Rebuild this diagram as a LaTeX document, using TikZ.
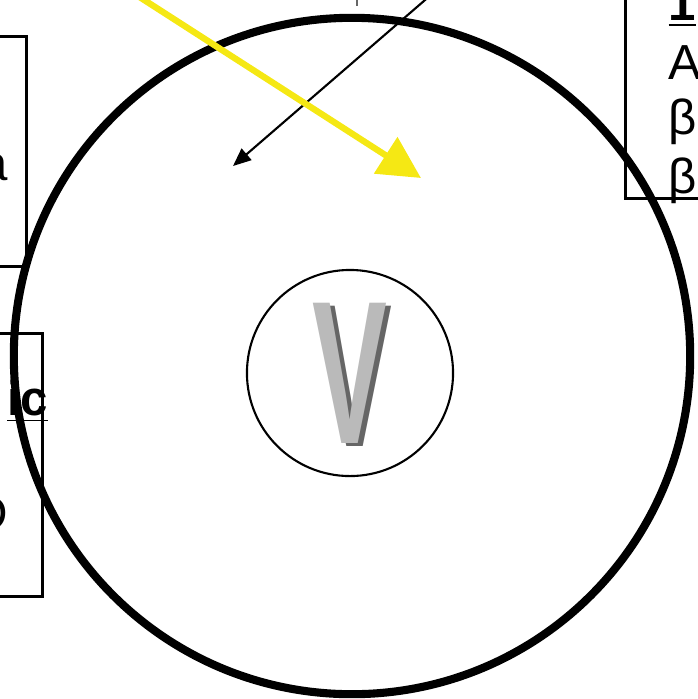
\documentclass[tikz,border=0pt]{standalone}
\usepackage{fontspec}
\setmainfont{Liberation Sans}
\usetikzlibrary{arrows.meta,positioning}
\definecolor{rayyellow}{rgb}{0.96,0.91,0.08}
\tikzset{panel/.style={draw,line width=0.8pt,minimum width=3cm},
  lbl/.style={inner sep=0pt,font=\fontsize{14}{17}\selectfont},
  arr/.style={-{Triangle[length=1.8mm,width=1.5mm]},line width=0.6pt},
  ray/.style={-{Triangle[length=4.2mm,width=4.2mm]},line width=1.8pt,rayyellow},
  vlet/.style={inner sep=0pt,font=\fontsize{58}{58}\selectfont\bfseries}}

\begin{document}
\begin{tikzpicture}[x=0.01cm,y=-0.01cm]
\useasboundingbox (0,0) rectangle (698,699);
\clip (0,0) rectangle (698,699);
% side panels, cut by the frame
\node[panel,minimum height=2.3cm,anchor=north east] (keyA) at (28,35) {};
\node[panel,minimum height=2.63cm,anchor=north east] (keyB) at (44,332) {};
\node[panel,minimum height=3.5cm,anchor=south west] (keyC) at (624,200) {};
\node[lbl,anchor=base east] (keyAtxt) at (9,180) {a};
\node[lbl,anchor=base east] (keyBhead) at (49,415) {\underline{\textbf{ic}}};
\node[lbl,anchor=base east] (keyBtxt) at (9,530) {D};
\node[lbl,anchor=base west] (keyChead) at (668,20) {\underline{\textbf{1}}};
\node[lbl,anchor=base west] (keyC1) at (668,79) {A};
\node[lbl,anchor=base west] (keyC2) at (668,134) {βe};
\node[lbl,anchor=base west] (keyC3) at (668,193) {βa};
% cell and nucleus
\node[draw,circle,line width=2.3pt,minimum size=6.76cm] (cell) at (352,356) {};
\node[draw,circle,line width=0.6pt,minimum size=2.06cm] (nucleus) at (350,373) {};
\node[vlet,text=black!60] (vshadow) at ([xshift=0.05cm,yshift=-0.035cm]nucleus.center) {\scalebox{0.55}[1]{V}};
\node[vlet,text=black!27] (vmark) at (nucleus.center) {\scalebox{0.55}[1]{V}};
% incoming arrows
\draw[black!60,line width=0.5pt] (357,-10) -- (357,6);
\coordinate (sigin) at (432,-6);
\coordinate (sigend) at (233,166);
\draw[arr] (sigin) -- (sigend);
\coordinate (rayin) at (138,-4);
\coordinate (rayend) at (421,178);
\draw[ray] (rayin) -- (rayend);
\end{tikzpicture}
\end{document}
